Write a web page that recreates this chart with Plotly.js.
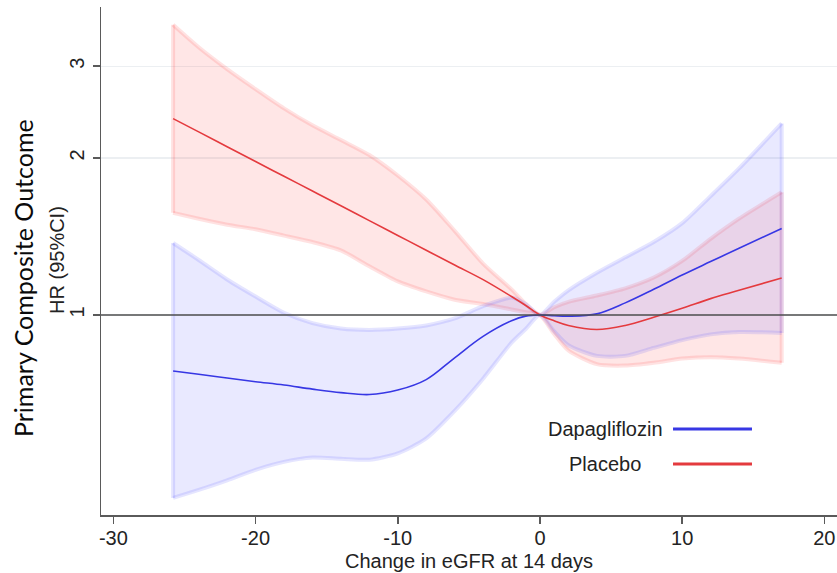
<!DOCTYPE html>
<html>
<head>
<meta charset="utf-8">
<script src="https://cdn.plot.ly/plotly-3.0.1.min.js"></script>
<style>html,body{margin:0;padding:0;background:#fff;}#chart{width:837px;height:573px;}</style>
</head>
<body>
<div id="chart"></div>
<script>
// Change in eGFR at 14 days
const egfr = [-25.8,-24,-22,-20,-18,-16,-14,-12,-10,-8,-6,-4,-2,-1,0,1,2,4,6,8,10,12,14,17];
// Dapagliflozin HR and 95% CI
const dapaHR    = [0.781,0.770,0.757,0.745,0.734,0.721,0.710,0.704,0.718,0.752,0.828,0.91,0.975,0.995,1,0.997,0.995,1.005,1.055,1.12,1.193,1.266,1.343,1.465];
const dapaUpper = [1.374,1.275,1.17,1.085,1.01,0.965,0.942,0.936,0.942,0.955,0.985,1.04,1.08,1.05,1,1.06,1.115,1.205,1.29,1.38,1.50,1.69,1.91,2.33];
const dapaLower = [0.446,0.462,0.482,0.505,0.523,0.533,0.530,0.528,0.543,0.58,0.655,0.755,0.885,0.94,1,0.93,0.875,0.835,0.835,0.865,0.895,0.918,0.928,0.924];
// Placebo HR and 95% CI
const placHR    = [2.38,2.244,2.102,1.969,1.845,1.729,1.620,1.517,1.421,1.331,1.247,1.169,1.085,1.043,1,0.975,0.955,0.938,0.955,0.99,1.03,1.075,1.115,1.178];
const placUpper = [3.6,3.26,2.96,2.71,2.49,2.31,2.165,2.026,1.851,1.665,1.45,1.255,1.12,1.05,1,1.035,1.06,1.09,1.125,1.18,1.27,1.40,1.53,1.72];
const placLower = [1.57,1.53,1.49,1.46,1.42,1.38,1.33,1.24,1.16,1.11,1.07,1.05,1.025,1.012,1,0.92,0.855,0.805,0.80,0.81,0.825,0.83,0.825,0.81];
// Labels
const seriesNames = ['Dapagliflozin','Placebo'];
const xTicks = [-30,-20,-10,0,10,20];
const xTickText = ['-30','-20','-10','0','10','20'];
const yTicks = [1,2,3];

const last = egfr.length - 1;
const spl = {shape:'spline', smoothing:0.7};
const splLine = {shape:'spline', smoothing:1.0};

function bandTraces(upper, lower, fillcolor, edgecolor) {
  return [
    {x: egfr, y: lower, type:'scatter', mode:'lines',
     line:Object.assign({color:edgecolor, width:4}, spl), hoverinfo:'skip', showlegend:false},
    {x: egfr, y: upper, type:'scatter', mode:'lines', fill:'tonexty', fillcolor:fillcolor,
     line:Object.assign({color:edgecolor, width:4}, spl), hoverinfo:'skip', showlegend:false},
    {x: [egfr[0], egfr[0], null, egfr[last], egfr[last]],
     y: [upper[0], lower[0], null, upper[last], lower[last]],
     type:'scatter', mode:'lines', connectgaps:false,
     line:{color:edgecolor, width:4}, hoverinfo:'skip', showlegend:false}
  ];
}

const dapaCol = 'rgb(55,55,228)';
const placCol = 'rgb(228,58,62)';

const traces = []
  .concat(bandTraces(placUpper, placLower, 'rgba(255,60,60,0.13)', 'rgba(255,60,60,0.15)'))
  .concat(bandTraces(dapaUpper, dapaLower, 'rgba(70,70,255,0.12)', 'rgba(70,70,255,0.14)'))
  .concat([
    {x: egfr, y: placHR, type:'scatter', mode:'lines', name: seriesNames[1],
     line:Object.assign({color:placCol, width:1.6}, splLine), showlegend:false},
    {x: egfr, y: dapaHR, type:'scatter', mode:'lines', name: seriesNames[0],
     line:Object.assign({color:dapaCol, width:1.6}, splLine), showlegend:false}
  ]);

const fontFam = '"Liberation Sans", Arial, Helvetica, sans-serif';
const txtCol = 'rgb(35,35,35)';
const axCol = 'rgb(90,90,90)';

const layout = {
  width: 837, height: 573,
  margin: {l:101, r:0, t:7, b:58},
  paper_bgcolor:'#fff', plot_bgcolor:'#fff',
  showlegend:false,
  font:{family:fontFam, size:20, color:txtCol},
  xaxis: {
    range:[-30.87, 20.89], tickvals:xTicks, ticktext:xTickText, ticks:'outside', ticklen:7, tickwidth:1.5, tickcolor:axCol,
    showline:true, linecolor:axCol, linewidth:1.5, showgrid:false, zeroline:false, ticklabelstandoff:-3,
    tickfont:{family:fontFam, size:20, color:txtCol},
    title:{text:'Change in eGFR at 14 days', font:{family:fontFam, size:20, color:txtCol}, standoff:6}
  },
  yaxis: {
    type:'log', range:[-0.3834, 0.5905], tickvals:yTicks, ticktext:yTicks.map(String),
    ticks:'outside', ticklen:7, tickwidth:1.5, tickcolor:axCol, tickangle:-90, ticklabelstandoff:1,
    showline:true, linecolor:axCol, linewidth:1.5, showgrid:true, gridcolor:'rgb(236,239,242)', gridwidth:1.2,
    zeroline:false, tickfont:{family:fontFam, size:20, color:txtCol}
  },
  shapes: [
    {type:'line', xref:'paper', x0:0, x1:1, yref:'y', y0:1, y1:1, line:{color:'rgb(80,80,80)', width:1.6}, layer:'above'},
    {type:'line', xref:'paper', x0:0.7772, x1:0.8845, yref:'paper', y0:0.1693, y1:0.1693, line:{color:dapaCol, width:3}},
    {type:'line', xref:'paper', x0:0.7772, x1:0.8845, yref:'paper', y0:0.1004, y1:0.1004, line:{color:placCol, width:3}}
  ],
  annotations: [
    {xref:'paper', yref:'paper', x:0.6848, y:0.1693, text:seriesNames[0], showarrow:false, xanchor:'center', yanchor:'middle',
     font:{family:fontFam, size:20, color:txtCol}},
    {xref:'paper', yref:'paper', x:0.6848, y:0.1004, text:seriesNames[1], showarrow:false, xanchor:'center', yanchor:'middle',
     font:{family:fontFam, size:20, color:txtCol}},
    {xref:'paper', yref:'paper', x:-0.0598, y:0.502, text:'HR (95%CI)', showarrow:false, textangle:-90, xanchor:'center', yanchor:'middle',
     font:{family:fontFam, size:20, color:txtCol}},
    {xref:'paper', yref:'paper', x:-0.106, y:0.4665, text:'Primary Composite Outcome', showarrow:false, textangle:-90, xanchor:'center', yanchor:'middle',
     font:{family:'Lato, "Open Sans", sans-serif', size:25, color:'rgb(10,10,10)'}}
  ]
};

Plotly.newPlot('chart', traces, layout, {staticPlot:true, displayModeBar:false});
</script>
</body>
</html>
